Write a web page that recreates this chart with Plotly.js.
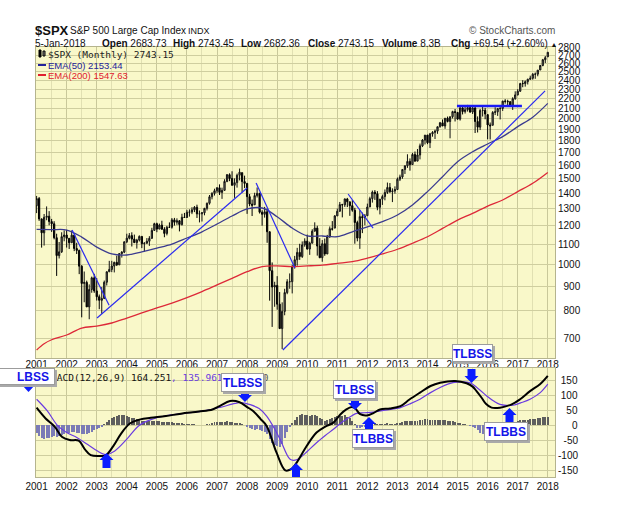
<!DOCTYPE html>
<html><head><meta charset="utf-8">
<script src="https://cdn.plot.ly/plotly-3.0.1.min.js"></script>
<style>html,body{margin:0;padding:0;background:#fff}#chart{width:625px;height:516px}</style>
</head><body><div id="chart"></div>
<script>
// ---- Monthly S&P 500 OHLC, Jan 2001 .. Jan 2018 ----
const startYear = 2001;
const openP = [
1320.28,1366.01,1239.94,1160.33,1249.46,1255.82,1224.38,1211.23,1133.58,1040.94,1059.78,1139.45,
1148.08,1130.20,1106.73,1147.39,1076.92,1067.14,989.82,911.62,916.07,815.28,885.76,936.31,
879.82,855.70,841.15,848.18,916.92,963.59,974.50,990.31,1008.01,995.97,1050.71,1058.20,
1111.92,1131.13,1144.94,1126.21,1107.30,1120.68,1140.84,1101.72,1104.24,1114.58,1130.20,1173.82,
1211.92,1181.27,1203.60,1180.59,1156.85,1191.50,1191.33,1234.18,1220.33,1228.81,1207.01,1249.48,
1248.29,1280.08,1280.66,1294.83,1310.61,1270.09,1270.20,1276.66,1303.82,1335.85,1377.94,1400.63,
1418.30,1438.24,1406.82,1420.86,1482.37,1530.62,1503.35,1455.27,1473.99,1526.75,1545.79,1481.14,
1468.36,1378.55,1330.63,1326.41,1385.59,1400.38,1280.00,1267.38,1282.83,1166.36,968.75,896.24,
903.25,825.88,735.09,797.87,872.81,919.14,919.32,987.48,1020.62,1057.08,1036.19,1095.63,
1115.10,1073.87,1104.49,1169.43,1186.69,1089.41,1030.71,1101.60,1049.33,1141.20,1183.26,1186.60,
1257.64,1286.12,1327.22,1325.83,1363.61,1345.20,1320.64,1292.28,1218.89,1131.42,1253.30,1246.96,
1258.86,1312.41,1365.68,1408.47,1397.91,1310.33,1362.16,1379.32,1406.58,1440.67,1412.16,1416.18,
1426.19,1498.11,1514.68,1569.19,1597.57,1630.74,1606.28,1685.73,1632.97,1681.55,1756.54,1805.81,
1848.36,1782.59,1859.45,1872.34,1883.95,1923.57,1960.23,1930.67,2003.37,1972.29,2018.05,2067.56,
2058.90,1994.99,2104.50,2067.89,2085.51,2107.39,2063.11,2103.84,1972.18,1920.03,2079.36,2080.41,
2038.20,1940.24,1937.09,2059.74,2065.30,2096.95,2098.86,2173.60,2170.95,2168.27,2126.15,2198.81,
2238.83,2278.87,2363.64,2362.72,2384.20,2411.80,2423.41,2470.30,2471.65,2521.20,2575.26,2647.58,
2683.73];
const highP = [
1383.37,1376.38,1241.81,1269.30,1315.93,1286.62,1239.78,1226.27,1155.40,1110.61,1163.38,1173.62,
1176.97,1130.20,1173.03,1147.84,1106.59,1070.74,994.46,965.00,924.02,907.44,941.82,954.28,
935.05,864.64,895.90,924.24,965.38,1015.33,1015.41,1011.01,1040.29,1053.79,1063.65,1112.56,
1155.38,1158.98,1163.23,1150.57,1127.74,1146.18,1140.84,1109.68,1131.54,1142.05,1188.46,1217.33,
1217.80,1212.44,1229.11,1191.88,1199.56,1219.59,1245.15,1245.86,1243.13,1233.34,1270.64,1275.80,
1294.90,1297.57,1310.88,1318.16,1326.70,1290.68,1280.42,1306.74,1340.28,1389.45,1407.89,1431.81,
1441.61,1461.57,1438.89,1498.02,1535.56,1540.56,1555.90,1503.89,1538.74,1576.09,1545.79,1523.57,
1471.77,1396.02,1359.68,1404.57,1440.24,1404.05,1292.17,1313.15,1303.04,1167.03,1007.51,918.85,
943.85,875.01,832.98,888.70,930.17,956.23,996.68,1039.47,1080.15,1101.36,1113.69,1130.38,
1150.45,1112.42,1180.16,1219.80,1200.26,1131.23,1120.95,1129.24,1148.90,1196.14,1227.08,1262.60,
1302.67,1344.07,1332.28,1366.60,1370.58,1345.20,1356.48,1307.38,1229.29,1292.66,1277.55,1269.37,
1333.47,1378.04,1419.15,1422.38,1415.32,1363.46,1391.74,1426.68,1474.51,1470.96,1434.27,1448.00,
1509.94,1530.94,1570.28,1597.57,1687.18,1654.19,1698.78,1709.67,1729.86,1775.22,1813.55,1849.44,
1850.84,1867.92,1883.97,1897.28,1924.03,1968.17,1991.39,2005.04,2019.26,2018.19,2075.76,2093.55,
2064.43,2119.59,2117.52,2125.92,2134.72,2129.87,2132.82,2112.66,2020.86,2094.32,2116.48,2104.27,
2038.20,1962.96,2072.21,2111.05,2103.48,2120.55,2177.09,2193.81,2187.87,2169.60,2214.10,2277.53,
2300.99,2371.54,2400.98,2398.16,2418.71,2453.82,2484.04,2490.87,2519.44,2582.98,2657.74,2694.97,
2743.45];
const lowP = [
1274.62,1228.33,1081.19,1091.99,1232.00,1203.03,1165.54,1124.87,944.75,1026.76,1054.31,1114.51,
1081.66,1074.36,1106.73,1063.46,1048.96,952.92,775.68,833.44,815.28,768.63,872.05,871.70,
840.34,806.29,788.90,847.85,902.83,963.59,962.10,960.84,990.36,995.97,1031.20,1053.41,
1105.08,1124.44,1087.16,1107.23,1076.32,1113.32,1078.78,1060.72,1101.29,1090.19,1127.60,1173.78,
1163.75,1180.95,1176.92,1136.15,1146.18,1188.30,1183.55,1201.07,1205.35,1168.20,1201.07,1246.59,
1245.74,1253.61,1268.42,1280.74,1245.34,1219.29,1224.54,1261.30,1290.93,1327.10,1360.98,1385.93,
1403.97,1389.42,1363.98,1416.37,1476.70,1484.18,1454.25,1370.60,1439.29,1489.56,1406.10,1435.65,
1270.05,1316.75,1256.98,1324.35,1373.07,1272.00,1200.44,1247.45,1106.39,839.80,741.02,815.69,
804.47,734.52,666.79,783.32,866.10,888.86,869.32,978.51,991.97,1019.95,1029.38,1085.89,
1071.59,1044.50,1105.24,1170.69,1040.78,1028.33,1010.91,1039.70,1048.18,1131.87,1173.00,1186.60,
1257.62,1282.86,1249.05,1312.61,1311.80,1258.07,1282.86,1101.54,1114.22,1074.77,1158.66,1202.37,
1258.86,1312.41,1340.03,1357.38,1291.98,1266.74,1325.41,1354.65,1396.56,1403.28,1343.35,1398.11,
1426.19,1485.01,1501.48,1536.03,1581.28,1560.33,1604.57,1627.47,1633.41,1646.47,1746.20,1767.99,
1770.45,1737.92,1834.44,1814.36,1859.79,1915.98,1930.67,1904.78,1964.04,1820.66,2001.01,1972.56,
1988.12,1980.90,2039.69,2048.38,2067.93,2056.32,2044.02,1867.01,1871.91,1893.70,2019.39,1993.26,
1812.29,1810.10,1937.09,2033.80,2025.91,1991.68,2074.02,2147.58,2119.12,2114.72,2083.79,2187.44,
2233.62,2271.65,2322.25,2328.95,2352.72,2405.70,2407.70,2417.35,2446.55,2520.40,2566.33,2605.52,
2682.36];
const closeP = [
1366.01,1239.94,1160.33,1249.46,1255.82,1224.38,1211.23,1133.58,1040.94,1059.78,1139.45,1148.08,
1130.20,1106.73,1147.39,1076.92,1067.14,989.82,911.62,916.07,815.28,885.76,936.31,879.82,
855.70,841.15,848.18,916.92,963.59,974.50,990.31,1008.01,995.97,1050.71,1058.20,1111.92,
1131.13,1144.94,1126.21,1107.30,1120.68,1140.84,1101.72,1104.24,1114.58,1130.20,1173.82,1211.92,
1181.27,1203.60,1180.59,1156.85,1191.50,1191.33,1234.18,1220.33,1228.81,1207.01,1249.48,1248.29,
1280.08,1280.66,1294.83,1310.61,1270.09,1270.20,1276.66,1303.82,1335.85,1377.94,1400.63,1418.30,
1438.24,1406.82,1420.86,1482.37,1530.62,1503.35,1455.27,1473.99,1526.75,1549.38,1481.14,1468.36,
1378.55,1330.63,1322.70,1385.59,1400.38,1280.00,1267.38,1282.83,1166.36,968.75,896.24,903.25,
825.88,735.09,797.87,872.81,919.14,919.32,987.48,1020.62,1057.08,1036.19,1095.63,1115.10,
1073.87,1104.49,1169.43,1186.69,1089.41,1030.71,1101.60,1049.33,1141.20,1183.26,1180.55,1257.64,
1286.12,1327.22,1325.83,1363.61,1345.20,1320.64,1292.28,1218.89,1131.42,1253.30,1246.96,1257.60,
1312.41,1365.68,1408.47,1397.91,1310.33,1362.16,1379.32,1406.58,1440.67,1412.16,1416.18,1426.19,
1498.11,1514.68,1569.19,1597.57,1630.74,1606.28,1685.73,1632.97,1681.55,1756.54,1805.81,1848.36,
1782.59,1859.45,1872.34,1883.95,1923.57,1960.23,1930.67,2003.37,1972.29,2018.05,2067.56,2058.90,
1994.99,2104.50,2067.89,2085.51,2107.39,2063.11,2103.84,1972.18,1920.03,2079.36,2080.41,2043.94,
1940.24,1932.23,2059.74,2065.30,2096.95,2098.86,2173.60,2170.95,2168.27,2126.15,2198.81,2238.83,
2278.87,2363.64,2362.72,2384.20,2411.80,2423.41,2470.30,2471.65,2519.36,2575.26,2647.58,2673.61,
2743.15];

// ---- EMA lines ----
const ema50Year = [2001,2001.5,2002,2002.5,2003,2003.5,2004,2004.5,2005,2005.5,2006,2006.5,2007,2007.5,2008,2008.5,2009,2009.5,2010,2010.5,2011,2011.5,2012,2012.5,2013,2013.5,2014,2014.5,2015,2015.5,2016,2016.5,2017,2017.5,2018];
const ema50 = [1180,1178,1176,1137,1084,1049,1044,1060,1079,1100,1132,1166,1210,1257,1300,1306,1253,1187,1144,1143,1139,1166,1193,1224,1263,1325,1412,1516,1629,1708,1772,1835,1925,2013,2150];
const ema200Year = [2001,2001.25,2001.5,2002,2002.5,2003,2003.5,2004,2004.5,2005,2005.5,2006,2006.5,2007,2007.5,2008,2008.5,2009,2009.5,2010,2010.5,2011,2011.5,2012,2012.5,2013,2013.5,2014,2014.5,2015,2015.5,2016,2016.5,2017,2017.5,2018];
const ema200 = [664,684,697,713,737,744,755,773,792,811,830,852,877,905,934,964,988,991,988,991,995,1003,1011,1028,1049,1073,1104,1139,1185,1233,1273,1318,1357,1412,1469,1547];

// ---- Hand-drawn trendlines (year, price) ----
const trendStartYear = [2002.18, 2003.01, 2008.30, 2009.19, 2011.36];
const trendStartPrice = [1176, 773, 1472, 664, 1396];
const trendEndYear = [2003.41, 2008.00, 2009.59, 2017.91, 2012.19];
const trendEndPrice = [822, 1437, 981, 2282, 1187];
const resistYear = [2014.98, 2017.14];
const resistPrice = [2124, 2124];

// ---- MACD(12,26,9) ----
const macdYear = [2001.0,2001.3,2001.6,2001.85,2002.1,2002.4,2002.6,2002.8,2003.1,2003.3,2003.55,2003.8,2004.1,2004.45,2004.8,2005.3,2005.8,2006.4,2006.85,2007.1,2007.43,2007.75,2008.0,2008.2,2008.45,2008.65,2008.98,2009.27,2009.45,2009.65,2009.98,2010.31,2010.6,2010.87,2011.1,2011.3,2011.48,2011.6,2011.76,2011.98,2012.2,2012.42,2012.75,2013.1,2013.4,2013.75,2014.1,2014.42,2014.92,2015.3,2015.5,2015.63,2015.8,2015.95,2016.13,2016.41,2016.8,2017.08,2017.41,2017.74,2018.0];
const macd = [58,22,-5,-40,-50,-52,-80,-100,-103,-101,-70,-30,5,19,24,30,38,45,52,64,80,76,60,47,20,-3,-92,-151,-148,-125,-70,-25,-5,8,35,52,60,55,36,32,40,52,55,63,85,108,130,141,147,139,128,113,91,70,58,58,69,86,113,136,164];
const sigYear = [2001.0,2001.35,2001.7,2002.0,2002.35,2002.7,2003.0,2003.3,2003.6,2004.0,2004.4,2004.8,2005.3,2005.95,2006.6,2007.1,2007.6,2007.8,2008.1,2008.4,2008.65,2008.9,2009.1,2009.43,2009.6,2009.76,2010.0,2010.31,2010.6,2010.87,2011.1,2011.3,2011.64,2011.9,2012.2,2012.6,2013.1,2013.4,2013.75,2014.1,2014.42,2014.7,2014.97,2015.41,2015.7,2015.97,2016.2,2016.41,2016.85,2017.1,2017.41,2017.75,2018.0];
const signal = [86,48,-2,-25,-42,-65,-85,-98,-86,-47,-2,18,31,39,48,59,72,75,68,55,30,-10,-48,-114,-117,-109,-88,-59,-35,-14,5,19,39,41,43,50,58,70,86,108,125,137,143,141,120,97,80,69,66,74,86,108,136];
const hist = [
-28,-38,-44,-45,-44,-42,-40,-38,-40,-37,-33,-30,
-28,-26,-24,-24,-25,-27,-30,-30,-30,-26,-22,-18,
-14,-10,-5,2,10,18,24,28,31,33,33,32,
30,28,25,22,19,16,14,13,13,14,15,15,
14,12,10,9,9,9,9,8,7,6,6,5,
5,5,4,3,1,-1,-1,0,2,5,7,9,
10,10,10,11,12,11,9,7,6,6,3,0,
-5,-10,-14,-15,-14,-17,-21,-24,-30,-45,-60,-68,
-70,-72,-62,-44,-24,-8,6,18,28,34,36,35,
33,31,34,35,29,23,19,15,17,21,23,27,
29,31,31,32,28,23,15,2,-10,-10,-8,-6,
-4,0,4,6,2,2,3,4,6,5,4,4,
6,8,10,12,14,13,14,13,14,16,18,20,
19,18,18,17,17,18,16,16,14,12,12,10,
7,6,4,2,0,-2,-5,-10,-18,-25,-30,-33,
-30,-25,-18,-12,-8,-5,-2,0,2,3,5,8,
12,16,18,18,18,20,20,20,22,24,26,27,
28];

const yearTicks = [2001,2002,2003,2004,2005,2006,2007,2008,2009,2010,2011,2012,2013,2014,2015,2016,2017,2018];
const priceTicks = [700,800,900,1000,1100,1200,1300,1400,1500,1600,1700,1800,1900,2000,2100,2200,2300,2400,2500,2600,2700,2800];
const macdTicks = [-150,-100,-50,0,50,100,150];
const macdTickText = ['-150','-100','\u2007-50','\u2008\u2007\u20070','\u2008\u200750','\u2008100','\u2008150'];

// ---- geometry helpers (pixel -> paper) ----
const L = 36, R = 555, T = 47, B = 477;
const px = x => (x - L) / (R - L);
const py = y => (B - y) / (B - T);

const months = openP.map((_, i) => startYear + i / 12);
const FONT = 'Liberation Sans, Arial, sans-serif';
const MONO = 'DejaVu Sans Mono, Liberation Mono, monospace';
const NARROW = 'Liberation Sans Narrow, Arial Narrow, Liberation Sans, Arial, sans-serif';

const trendX = [], trendY = [];
trendStartYear.forEach((s, i) => { trendX.push(s, trendEndYear[i], null); trendY.push(trendStartPrice[i], trendEndPrice[i], null); });

const traces = [
  {type:'candlestick', x: months, open: openP, high: highP, low: lowP, close: closeP,
   xaxis:'x', yaxis:'y', hoverinfo:'skip', whiskerwidth:0,
   increasing:{line:{color:'#111', width:1}, fillcolor:'#85857a'},
   decreasing:{line:{color:'#000', width:1}, fillcolor:'#000'}},
  {type:'scatter', mode:'lines', x: ema50Year, y: ema50, xaxis:'x', yaxis:'y', line:{color:'#3b3b8f', width:1.3, shape:'spline'}, hoverinfo:'skip'},
  {type:'scatter', mode:'lines', x: ema200Year, y: ema200, xaxis:'x', yaxis:'y', line:{color:'#dd2838', width:1.3, shape:'spline'}, hoverinfo:'skip'},
  {type:'scatter', mode:'lines', x: trendX, y: trendY, xaxis:'x', yaxis:'y', line:{color:'#2b2bf0', width:1.2}, hoverinfo:'skip'},
  {type:'scatter', mode:'lines', x: resistYear, y: resistPrice, xaxis:'x', yaxis:'y', line:{color:'#1a1af5', width:2.5}, hoverinfo:'skip'},
  {type:'bar', x: months, y: hist, xaxis:'x2', yaxis:'y2', width: 1/12*0.78,
   marker:{color: hist.map(v => v >= 0 ? '#5e5e5e' : '#7b7bb6'), line:{width:0}}, hoverinfo:'skip'},
  {type:'scatter', mode:'lines', x: sigYear, y: signal, xaxis:'x2', yaxis:'y2', line:{color:'#6a3be0', width:1.2, shape:'spline'}, hoverinfo:'skip'},
  {type:'scatter', mode:'lines', x: macdYear, y: macd, xaxis:'x2', yaxis:'y2', line:{color:'#000', width:2, shape:'spline'}, hoverinfo:'skip'}
];

const xCommon = {
  range:[2000.98, 2018.24], tickmode:'array', tickvals: yearTicks, ticktext: yearTicks.map(String),
  showgrid:true, gridcolor:'#c9c89a', gridwidth:1, zeroline:false,
  minor:{dtick:0.5, tick0:2001, showgrid:true, gridcolor:'#e1e0b2', gridwidth:1},
  showline:true, linecolor:'#b5b48e', mirror:true, ticks:'',
  tickfont:{family:FONT, size:10, color:'#111'}, fixedrange:true
};

// ---- annotations ----
const ann = [];
function txt(x, y, text, size, opts) {
  ann.push(Object.assign({xref:'paper', yref:'paper', x:px(x), y:py(y), xanchor:'left', yanchor:'middle',
    text, showarrow:false, borderpad:0, borderwidth:0, font:{family:FONT, size, color:'#111'}}, opts || {}));
}
txt(35, 30, '<b>$SPX</b>', 13);
txt(70, 31, 'S&amp;P 500 Large Cap Index', 10);
txt(188, 31, 'INDX', 9);
txt(555, 30, '\u00A9 StockCharts.com', 10, {xanchor:'right', font:{family:FONT, size:10, color:'#555'}});
txt(35, 43, '5-Jan-2018', 10);
txt(102, 43, '<b>Open</b> 2683.73', 10);
txt(173, 43, '<b>High</b> 2743.45', 10);
txt(241, 43, '<b>Low</b> 2682.36', 10);
txt(308, 43, '<b>Close</b> 2743.15', 10);
txt(382, 43, '<b>Volume</b> 8.3B', 10);
txt(451, 43, '<b>Chg</b> +69.54 (+2.60%) <span style="font-size:7px">\u25B2</span>', 10);
txt(48, 54, '$SPX (Monthly) 2743.15', 9.5, {font:{family:MONO, size:9.5, color:'#222'}});
txt(48, 65, 'EMA(50) 2153.44', 9.5, {font:{family:NARROW, size:9.5, color:'#23239a'}});
txt(48, 75, 'EMA(200) 1547.63', 9.5, {font:{family:NARROW, size:9.5, color:'#e0202e'}});
txt(51, 377, 'MACD(12,26,9) 164.251<span style="fill:#6a3be0">, 135.961</span><span style="fill:#555">, 28.290</span>', 9.5,
    {font:{family:MONO, size:9.5, color:'#111'}});

const BLUE_TXT = '#1414e8';
function box(x0, x1, y0, y1, label, labelX) {
  const cx = (x0 + x1) / 2, cy = (y0 + y1) / 2, w = x1 - x0 - 2, h = y1 - y0 - 2;
  ann.push({xref:'paper', yref:'paper', x:px(cx + 2), y:py(cy + 2), xanchor:'center', yanchor:'middle',
    text:' ', showarrow:false, width:w, height:h, bgcolor:'#a9a9a9', bordercolor:'#a9a9a9', borderwidth:1, borderpad:0});
  ann.push({xref:'paper', yref:'paper', x:px(cx), y:py(cy), xanchor:'center', yanchor:'middle',
    text:' ', showarrow:false, width:w, height:h, bgcolor:'#ffffff', bordercolor:'#9c9c9c', borderwidth:1, borderpad:0});
  ann.push({xref:'paper', yref:'paper', x:px(labelX !== undefined ? labelX : cx), y:py(cy + 0.5), xanchor:'center', yanchor:'middle',
    text:'<b>' + label + '</b>', showarrow:false, borderwidth:0, borderpad:0,
    font:{family:FONT, size:12, color:BLUE_TXT}});
}
box(-20, 55, 368, 385, 'LBSS', 32.5);
box(221, 264, 373, 392, 'TLBSS');
box(333, 376, 380, 399, 'TLBSS');
box(352, 394, 429, 448, 'TLBBS');
box(452, 493, 344, 362, 'TLBSS');
box(484, 528, 422, 441, 'TLBBS');

// ---- block arrows ----
const ARROW = '#0a1cff';
function pathOf(pts) { return 'M' + pts.map(p => px(p[0]).toFixed(5) + ',' + py(p[1]).toFixed(5)).join(' L') + ' Z'; }
function upArrow(tx, ty, len) {
  return pathOf([[tx,ty],[tx+7,ty+7],[tx+4,ty+7],[tx+4,ty+len],[tx-4,ty+len],[tx-4,ty+7],[tx-7,ty+7]]);
}
function downArrow(tx, ty, len) {
  return pathOf([[tx,ty],[tx+7,ty-7],[tx+4,ty-7],[tx+4,ty-len],[tx-4,ty-len],[tx-4,ty-7],[tx-7,ty-7]]);
}
const arrowPaths = [
  pathOf([[22,385],[35,385],[28.5,392]]),
  upArrow(106.5, 453, 15),
  upArrow(296, 463, 14),
  upArrow(369, 417, 12),
  upArrow(509.5, 408, 14),
  downArrow(245, 402, 12),
  downArrow(355, 410, 12),
  downArrow(471.5, 383, 14)
];
const shapes = arrowPaths.map(p => ({type:'path', xref:'paper', yref:'paper', path:p, fillcolor:ARROW, line:{width:0}, layer:'above'}));
// legend glyphs
shapes.push({type:'line', xref:'paper', yref:'paper', x0:px(38), x1:px(46), y0:py(65), y1:py(65), line:{color:'#23239a', width:2}});
shapes.push({type:'line', xref:'paper', yref:'paper', x0:px(38), x1:px(46), y0:py(75), y1:py(75), line:{color:'#e0202e', width:2}});
shapes.push({type:'rect', xref:'paper', yref:'paper', x0:px(39), x1:px(41), y0:py(57), y1:py(50), fillcolor:'#000', line:{color:'#000', width:1}});
shapes.push({type:'rect', xref:'paper', yref:'paper', x0:px(43), x1:px(45), y0:py(56), y1:py(51), fillcolor:'#888', line:{color:'#000', width:1}});

const layout = {
  width:625, height:516, margin:{l:L, r:625-R, t:T, b:516-B, pad:0},
  paper_bgcolor:'#ffffff', plot_bgcolor:'#f9f8c9', showlegend:false, hovermode:false, bargap:0,
  font:{family:FONT, size:10, color:'#111'},
  xaxis: Object.assign({}, xCommon, {anchor:'y', rangeslider:{visible:false}, ticklabelstandoff:-3}),
  xaxis2: Object.assign({}, xCommon, {anchor:'y2'}),
  yaxis: {domain:[(B-358)/(B-T), 1], type:'log', range:[Math.log10(639), Math.log10(2813)], side:'right',
    tickmode:'array', tickvals: priceTicks, ticktext: priceTicks.map(v => v < 1000 ? '\u2007' + v : String(v)),
    showgrid:true, gridcolor:'#cfce9f', zeroline:false, showline:true, linecolor:'#b5b48e', mirror:true, ticks:'',
    tickfont:{family:FONT, size:10, color:'#111'}, fixedrange:true},
  yaxis2: {domain:[0, (B-368)/(B-T)], range:[-173, 190], side:'right',
    tickmode:'array', tickvals: macdTicks, ticktext: macdTickText,
    showgrid:true, gridcolor:'#cfce9f', zeroline:false, showline:true, linecolor:'#b5b48e', mirror:true, ticks:'',
    tickfont:{family:FONT, size:10, color:'#111'}, fixedrange:true},
  annotations: ann,
  shapes: shapes
};

Plotly.newPlot('chart', traces, layout, {staticPlot:true, displayModeBar:false});
</script>
</body></html>
